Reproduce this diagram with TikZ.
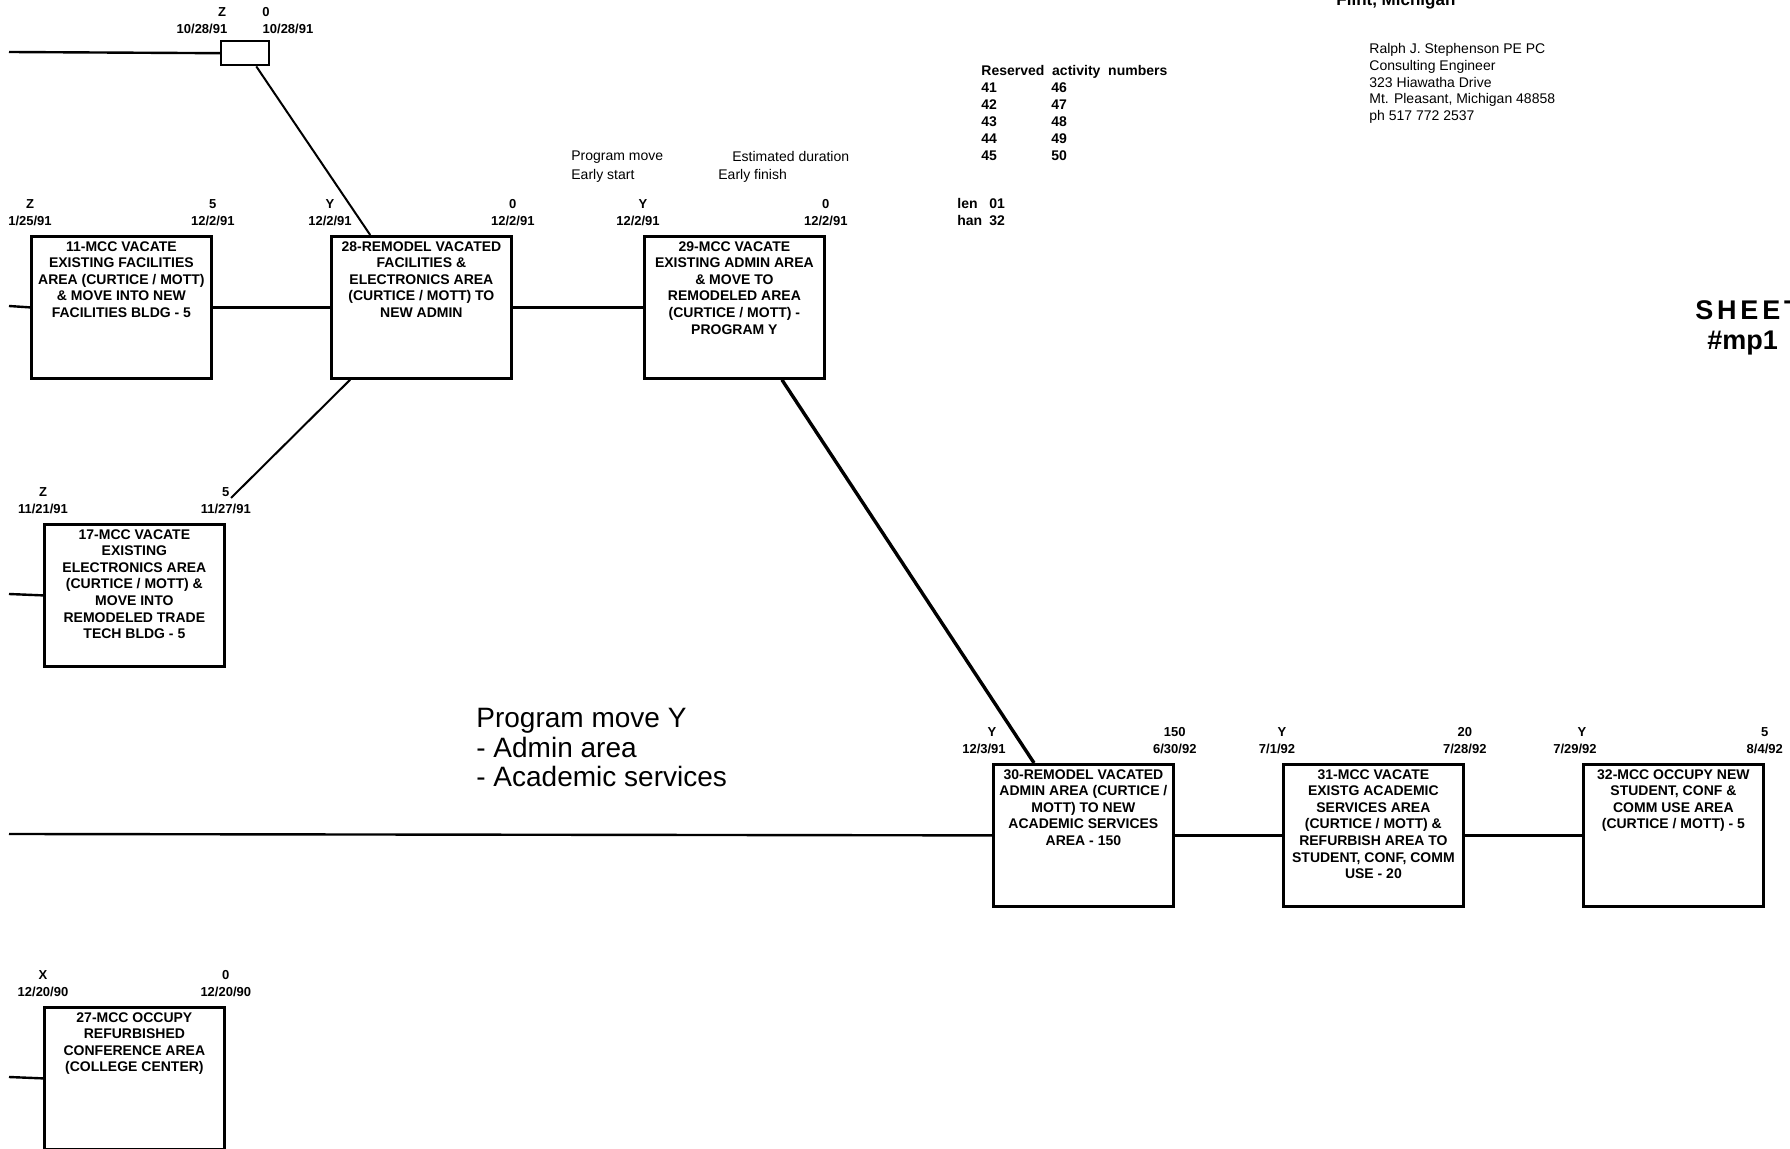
\documentclass[tikz,border=0pt]{standalone}
\usepackage{fontspec}
\setmainfont{Liberation Sans}
\usetikzlibrary{calc}
\newcommand{\actlab}[6]{%
  \node[lab] (#1c) at ($(#1.north west)+(0,-31)$) {#2};
  \node[lab] (#1s) at ($(#1.north west)+(#6,-14)$) {#3};
  \node[lab] (#1d) at ($(#1.north east)+(0,-31)$) {#4};
  \node[lab] (#1f) at ($(#1.north east)+(0,-14)$) {#5};
}
\begin{document}
\begin{tikzpicture}[x=0.5pt,y=-0.5pt,
  box/.style={draw, line width=1.4pt, minimum width=90pt, minimum height=71pt, anchor=north west, inner sep=0pt},
  btxt/.style={anchor=north, align=center, inner sep=0pt, font=\bfseries\fontsize{7}{8.3}\selectfont},
  lab/.style={inner sep=0pt, font=\bfseries\fontsize{6.5}{7.5}\selectfont},
  conn/.style={line width=1.2pt},
  diag/.style={line width=1pt},
  small/.style={inner sep=0pt, font=\fontsize{7}{8.4}\selectfont},
  smallb/.style={inner sep=0pt, font=\bfseries\fontsize{7}{8.5}\selectfont},
]
\useasboundingbox[fill=white] (0,0) rectangle (1790,1149);

% ---- header texts
\node[anchor=base west, inner sep=0pt, font=\bfseries\fontsize{8.5}{10}\selectfont] (flint) at (1336,6) {Flint, Michigan};
\node[small, anchor=north west, align=left] (addr) at (1369,43) {Ralph J. Stephenson PE PC\\Consulting Engineer\\323 Hiawatha Drive\\Mt. Pleasant, Michigan 48858\\ph 517 772 2537};
\node[smallb, anchor=north west, align=left] (resv) at (981,65) {Reserved\ \ activity\ \ numbers\\\makebox[35pt][l]{41}46\\\makebox[35pt][l]{42}47\\\makebox[35pt][l]{43}48\\\makebox[35pt][l]{44}49\\\makebox[35pt][l]{45}50};
\node[smallb, anchor=north west, align=left] (lenhan) at (957,198) {\makebox[16pt][l]{len}01\\\makebox[16pt][l]{han}32};
\node[small, anchor=west] (lg1) at (571,157) {Program move};
\node[small, anchor=west] (lg2) at (732,157) {Estimated duration};
\node[small, anchor=west] (lg3) at (571,176) {Early start};
\node[small, anchor=west] (lg4) at (718,176) {Early finish};
\node[anchor=base west, inner sep=0pt, font=\bfseries\fontsize{13.5}{15}\selectfont] (sheet) at (1695,320) {\addfontfeature{LetterSpace=14}SHEET};
\node[anchor=base west, inner sep=0pt, font=\bfseries\fontsize{13.5}{15}\selectfont] (mp1) at (1707,350) {\#mp1};
\node[anchor=north west, inner sep=0pt, align=left, font=\fontsize{14}{14.8}\selectfont] (prog) at (476,708) {Program move Y\\- Admin area\\- Academic services};

% ---- small milestone box
\node[draw, line width=1.2pt, minimum width=24pt, minimum height=12pt, anchor=north west, inner sep=0pt] (b0) at (220,40) {};
\node[lab] (b0c) at (222,12) {Z};
\node[lab] (b0d) at (266,12) {0};
\node[lab] (b0s) at (202,29) {10/28/91};
\node[lab] (b0f) at (288,29) {10/28/91};

% ---- activity boxes
\node[box] (b11) at (30,235) {};
\node[btxt] (t11) at ($(b11.north)+(0,6)$) {11-MCC VACATE\\EXISTING FACILITIES\\AREA (CURTICE / MOTT)\\\& MOVE INTO NEW\\FACILITIES BLDG - 5};
\actlab{b11}{Z}{1/25/91}{5}{12/2/91}{0}

\node[box] (b28) at (330,235) {};
\node[btxt] (t28) at ($(b28.north)+(0,6)$) {28-REMODEL VACATED\\FACILITIES \&\\ELECTRONICS AREA\\(CURTICE / MOTT) TO\\NEW ADMIN};
\actlab{b28}{Y}{12/2/91}{0}{12/2/91}{0}

\node[box] (b29) at (643,235) {};
\node[btxt] (t29) at ($(b29.north)+(0,6)$) {29-MCC VACATE\\EXISTING ADMIN AREA\\\& MOVE TO\\REMODELED AREA\\(CURTICE / MOTT) -\\PROGRAM Y};
\actlab{b29}{Y}{12/2/91}{0}{12/2/91}{-5}

\node[box] (b17) at (43,523) {};
\node[btxt] (t17) at ($(b17.north)+(0,6)$) {17-MCC VACATE\\EXISTING\\ELECTRONICS AREA\\(CURTICE / MOTT) \&\\MOVE INTO\\REMODELED TRADE\\TECH BLDG - 5};
\actlab{b17}{Z}{11/21/91}{5}{11/27/91}{0}

\node[box] (b30) at (992,763) {};
\node[btxt] (t30) at ($(b30.north)+(0,6)$) {30-REMODEL VACATED\\ADMIN AREA (CURTICE /\\MOTT) TO NEW\\ACADEMIC SERVICES\\AREA - 150};
\actlab{b30}{Y}{12/3/91}{150}{6/30/92}{-8}

\node[box] (b31) at (1282,763) {};
\node[btxt] (t31) at ($(b31.north)+(0,6)$) {31-MCC VACATE\\EXISTG ACADEMIC\\SERVICES AREA\\(CURTICE / MOTT) \&\\REFURBISH AREA TO\\STUDENT, CONF, COMM\\USE - 20};
\actlab{b31}{Y}{7/1/92}{20}{7/28/92}{-5}

\node[box] (b32) at (1582,763) {};
\node[btxt] (t32) at ($(b32.north)+(0,6)$) {32-MCC OCCUPY NEW\\STUDENT, CONF \&\\COMM USE AREA\\(CURTICE / MOTT) - 5};
\actlab{b32}{Y}{7/29/92}{5}{8/4/92}{-7}

\node[box] (b27) at (43,1006) {};
\node[btxt] (t27) at ($(b27.north)+(0,6)$) {27-MCC OCCUPY\\REFURBISHED\\CONFERENCE AREA\\(COLLEGE CENTER)};
\actlab{b27}{X}{12/20/90}{0}{12/20/90}{0}

% ---- free ends at the left edge
\coordinate (e0) at (9,52);
\coordinate (e1) at (9,306);
\coordinate (e2) at (9,594);
\coordinate (e3) at (9,834);
\coordinate (e4) at (9,1077);
\coordinate (k17) at (231,498);

% ---- connectors
\draw[conn] (e0) -- (b0.west);
\draw[conn] (e1) -- (b11.west);
\draw[conn] (b11.east) -- (b28.west);
\draw[conn] (b28.east) -- (b29.west);
\draw[conn] (e2) -- (b17.west);
\draw[conn] (e3) -- (b30.west);
\draw[conn] (b30.east) -- (b31.west);
\draw[conn] (b31.east) -- (b32.west);
\draw[conn] (e4) -- (b27.west);
\draw[diag] ($(b0.south west)!0.72!(b0.south east)$) -- ($(b28.north west)!0.22!(b28.north east)$);
\draw[diag] ($(b28.south west)!0.11!(b28.south east)$) -- (k17);
\draw[line width=1.7pt] ($(b29.south west)!0.76!(b29.south east)$) -- ($(b30.north west)!0.23!(b30.north east)$);
\end{tikzpicture}
\end{document}
